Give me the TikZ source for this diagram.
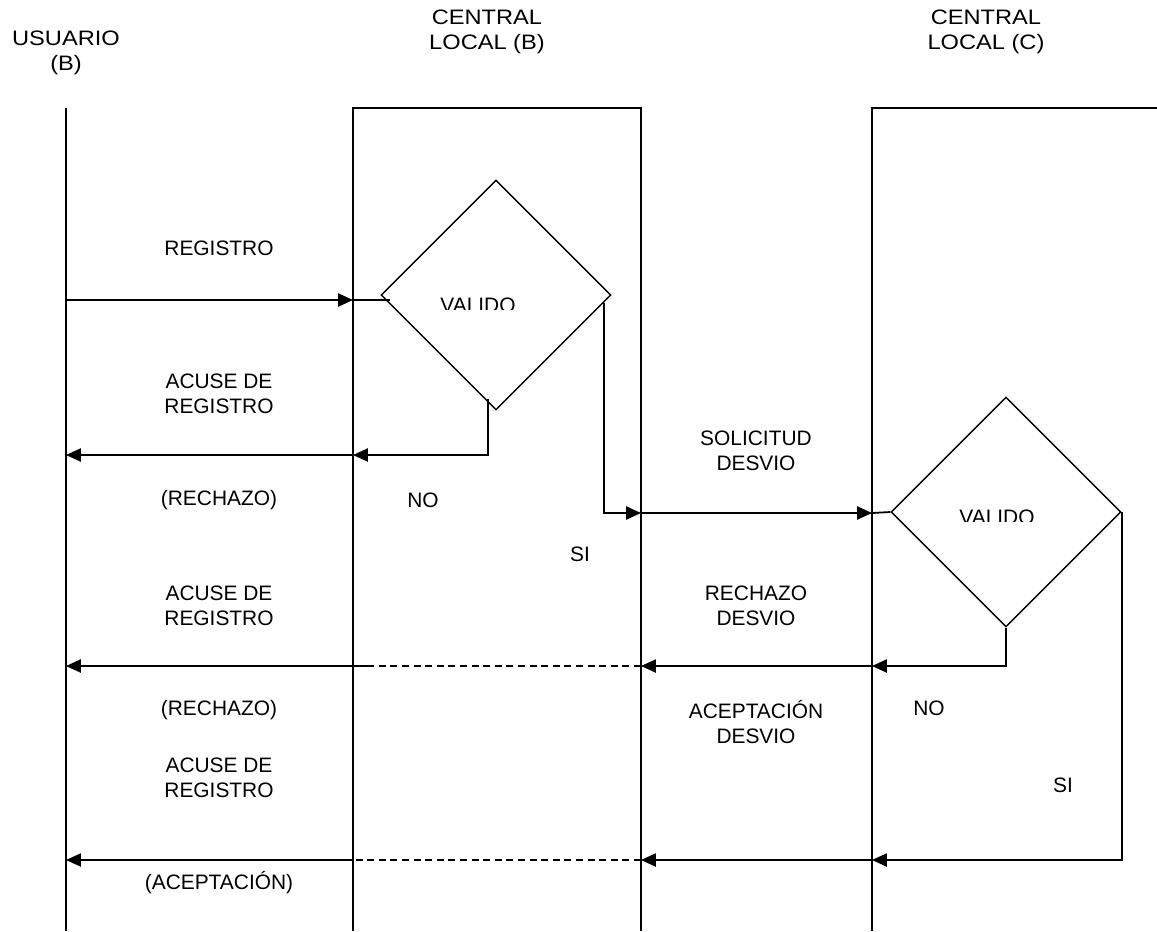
\documentclass[tikz,border=0pt]{standalone}
\usepackage{fontspec}
\setmainfont{Liberation Sans}
\newfontfamily\headfont[FakeStretch=1.13]{Liberation Sans}
\usetikzlibrary{shapes.geometric, arrows.meta, positioning, calc}
\tikzset{
  lane/.style={line width=0.8pt},
  plain/.style={line width=1pt},
  msg/.style={line width=1pt, -{Triangle[length=8.5pt, width=7.5pt]}},
  msgdash/.style={line width=1pt, dash pattern=on 4pt off 2.6pt},
  decision/.style={draw, diamond, line width=0.8pt, minimum width=4.6cm,
    minimum height=4.6cm, inner sep=0pt},
  lbl/.style={font=\fontsize{11.9}{14}\selectfont, align=center, inner sep=0pt},
  hdr/.style={font=\headfont\fontsize{11.9}{14.3}\selectfont, align=center, inner sep=0pt},
}

\begin{document}
\begin{tikzpicture}[x=0.02cm, y=-0.02cm]
        \useasboundingbox (0,0) rectangle (1157,931);

        % Lifelines
        \coordinate (usr) at (66,108);
        \coordinate (bL) at (353,108);
        \coordinate (bR) at (641,108);
        \coordinate (cL) at (872,108);
        \draw[lane] (usr) -- (66,931);
        \draw[lane] (353,931) -- (bL) -- (bR) -- (641,931);
        \draw[lane] (872,931) -- (cL) -- (1157,108);

        % Headers
        \node[hdr] (hU) at (66,53) {USUARIO\\(B)};
        \node[hdr] (hB) at (487,32) {CENTRAL\\LOCAL (B)};
        \node[hdr] (hC) at (986,32) {CENTRAL\\LOCAL (C)};

        % Decisions (text cut off at the bottom)
        \node[decision] (v1) at (496,295) {};
        \node[decision] (v2) at (1006,512) {};
        \begin{scope}
          \clip (420,280) rectangle (540,309);
          \node[lbl, anchor=base] (t1) at (478,312) {VALIDO};
        \end{scope}
        \begin{scope}
          \clip (940,495) rectangle (1060,521.5);
          \node[lbl, anchor=base] (t2) at (997,524) {VALIDO};
        \end{scope}

        % Message rows
        \coordinate (r1) at (0,300);
        \coordinate (r2) at (0,455);
        \coordinate (r3) at (0,513);
        \coordinate (r4) at (0,666);
        \coordinate (r5) at (0,860);
        \coordinate (d4) at (373,666);

        % Registro
        \draw[msg] (usr |- r1) -- (bL |- r1);
        \draw[plain] (bL |- r1) -- ($(v1.west)+(10,5)$);

        % NO branch (B)
        \coordinate (n1) at ($(v1.south)+(-8,-12)$);
        \draw[msg] (n1) |- (bL |- r2);
        \draw[msg] (bL |- r2) -- (usr |- r2);

        % SI branch (B)
        \coordinate (s1) at ($(v1.east)+(-8,8)$);
        \draw[msg] (s1) |- (bR |- r3);
        \draw[msg] (bR |- r3) -- (cL |- r3);
        \draw[plain] (cL |- r3) -- (v2.west);

        % NO branch (C)
        \draw[msg] (v2.south) |- (cL |- r4);
        \draw[msg] (cL |- r4) -- (bR |- r4);
        \draw[msgdash] (bR |- r4) -- (d4);
        \draw[msg] (d4) -- (usr |- r4);

        % SI branch (C)
        \draw[msg] (v2.east) |- (cL |- r5);
        \draw[msg] (cL |- r5) -- (bR |- r5);
        \draw[msgdash] (bR |- r5) -- (bL |- r5);
        \draw[msg] (bL |- r5) -- (usr |- r5);

        % Labels
        \node[lbl] (reg) at (219,248) {REGISTRO};
        \node[lbl] (ack1) at (219,394) {ACUSE DE\\REGISTRO};
        \node[lbl] (rej1) at (219,500) {(RECHAZO)};
        \node[lbl] (ack2) at (219,606) {ACUSE DE\\REGISTRO};
        \node[lbl] (rej2) at (219,710) {(RECHAZO)};
        \node[lbl] (ack3) at (219,778) {ACUSE DE\\REGISTRO};
        \node[lbl] (acc) at (219,883) {(ACEPTACIÓN)};
        \node[lbl] (sol) at (756,451) {SOLICITUD\\DESVIO};
        \node[lbl] (rdv) at (756,606) {RECHAZO\\DESVIO};
        \node[lbl] (adv) at (756,722) {ACEPTACIÓN\\DESVIO};
        \node[lbl] (no1) at (423,500) {NO};
        \node[lbl] (si1) at (580,554) {SI};
        \node[lbl] (no2) at (929,708) {NO};
        \node[lbl] (si2) at (1063,785) {SI};
\end{tikzpicture}
\end{document}
